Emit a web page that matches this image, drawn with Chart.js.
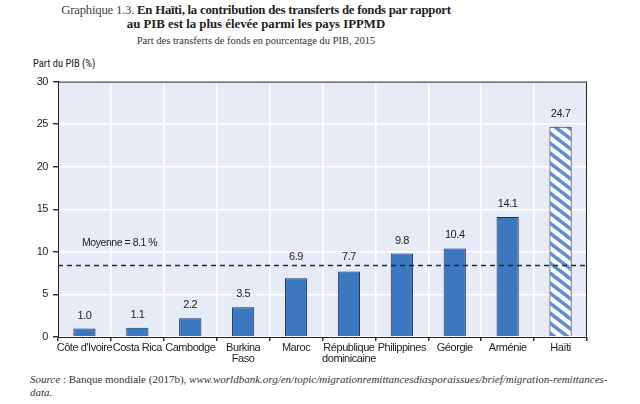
<!DOCTYPE html>
<html lang="fr">
<head>
    <meta charset="UTF-8">
    <title>Graphique 1.3</title>
    <style>
        body {
            margin: 0;
            width: 640px;
            height: 404px;
            background: #fff;
            position: relative;
            overflow: hidden;
            font-family: "Liberation Serif", serif;
            color: #222;
        }
        .title {
            position: absolute;
            left: 0;
            width: 512px;
            text-align: center;
            white-space: nowrap;
        }
        #t1 { top: 3px; font-size: 12.8px; letter-spacing: -0.25px; }
        #t2 { top: 17px; font-size: 12.8px; }
        #t3 { top: 35px; font-size: 10.5px; color: #333; }
        #t1 .n { color: #444; font-weight: normal; }
        #ylab {
            position: absolute;
            left: 33px;
            top: 57px;
            font-family: Roboto, "Liberation Sans", sans-serif;
            font-stretch: condensed;
            font-size: 10.5px;
            color: #222;
        }
        #chart-wrap {
            position: absolute;
            left: 0;
            top: 70px;
            width: 640px;
            height: 300px;
        }
        #source {
            position: absolute;
            left: 30px;
            top: 373px;
            font-size: 11px;
            line-height: 13px;
            color: #333;
            white-space: nowrap;
        }
    </style>
</head>
<body>
    <div class="title" id="t1"><span class="n">Graphique 1.3.</span> <b>En Haïti, la contribution des transferts de fonds par rapport</b></div>
    <div class="title" id="t2"><b>au PIB est la plus élevée parmi les pays IPPMD</b></div>
    <div class="title" id="t3">Part des transferts de fonds en pourcentage du PIB, 2015</div>
    <div id="ylab">Part du PIB (%)</div>
    <div id="chart-wrap"><canvas id="chart" width="640" height="300"></canvas></div>
    <div id="source"><i>Source</i> : Banque mondiale (2017b), <i>www.worldbank.org/en/topic/migrationremittancesdiasporaissues/brief/migration-remittances-</i><br><i>data.</i></div>

    <script src="https://cdn.jsdelivr.net/npm/chart.js"></script>
    <script>
        // Data
        const countries = ["Côte d'Ivoire", 'Costa Rica', 'Cambodge', ['Burkina', 'Faso'], 'Maroc',
            ['République', 'dominicaine'], 'Philippines', 'Géorgie', 'Arménie', 'Haïti'];
        const shares = [1.0, 1.1, 2.2, 3.5, 6.9, 7.7, 9.8, 10.4, 14.1, 24.7];
        const yTicks = [0, 5, 10, 15, 20, 25, 30];
        const meanLine = 8.4;          // where the dashed line sits on the picture
        const meanLabel = 'Moyenne = 8.1 %';

        const sans = '"Liberation Sans", Arial, sans-serif';
        const barBlue = '#3b78c0';
        const edge = '#1f2d46';

        // hatched fill for Haïti
        function makeHatch() {
            const w = 13, h = 10;
            const c = document.createElement('canvas');
            c.width = w;
            c.height = h;
            const g = c.getContext('2d');
            g.fillStyle = '#ffffff';
            g.fillRect(0, 0, w, h);
            g.strokeStyle = '#5f8fcf';
            g.lineWidth = 3.6;
            for (const dx of [-w, 0, w]) {
                g.beginPath();
                g.moveTo(dx - 2, -2 * h / w);
                g.lineTo(dx + w + 2, h + 2 * h / w);
                g.stroke();
            }
            return g.createPattern(c, 'repeat');
        }
        const hatch = makeHatch();
        const fills = shares.map((v, i) => i === shares.length - 1 ? hatch : barBlue);

        // plot background + frame, mean line, value labels
        const decor = {
            id: 'decor',
            beforeDraw(chart) {
                const a = chart.chartArea, ctx = chart.ctx;
                ctx.letterSpacing = '-0.45px';   // narrow look of the original labels
                ctx.save();
                ctx.fillStyle = '#e7ebf5';
                ctx.fillRect(a.left, a.top, a.right - a.left, a.bottom - a.top);
                ctx.restore();
            },
            afterDatasetsDraw(chart) {
                const a = chart.chartArea, ctx = chart.ctx;
                const y = chart.scales.y.getPixelForValue(meanLine);
                ctx.save();
                ctx.strokeStyle = '#1b2740';
                ctx.lineWidth = 1.4;
                ctx.setLineDash([5, 4]);
                ctx.beginPath();
                ctx.moveTo(a.left, y);
                ctx.lineTo(a.right, y);
                ctx.stroke();
                ctx.setLineDash([]);

                ctx.fillStyle = '#222';
                ctx.font = '10.5px ' + sans;
                ctx.textAlign = 'left';
                ctx.textBaseline = 'middle';
                ctx.fillText(meanLabel, a.left + 24, y - 22);

                ctx.font = '11px ' + sans;
                ctx.textAlign = 'center';
                chart.getDatasetMeta(0).data.forEach((bar, i) => {
                    let ly = bar.y - 13;
                    // labels that would sit on the dashed line are lifted above it
                    if (ly > y - 9 && ly < y + 8) ly = y - 9;
                    ctx.fillText(shares[i].toFixed(1), bar.x, ly);
                });

                ctx.strokeStyle = '#222';
                ctx.lineWidth = 1;
                ctx.strokeRect(a.left + 0.5, a.top + 0.5, a.right - a.left - 1, a.bottom - a.top);
                ctx.restore();
            }
        };

        new Chart(document.getElementById('chart'), {
            type: 'bar',
            data: {
                labels: countries,
                datasets: [{
                    data: shares,
                    backgroundColor: fills,
                    borderColor: edge,
                    borderWidth: 1,
                    barPercentage: 0.84,
                    categoryPercentage: 0.5
                }]
            },
            options: {
                responsive: false,
                animation: false,
                devicePixelRatio: 1,
                layout: { padding: { top: 8, right: 53, left: 0, bottom: 0 } },
                plugins: {
                    legend: { display: false },
                    tooltip: { enabled: false }
                },
                scales: {
                    x: {
                        grid: { color: '#ffffff', lineWidth: 1.5, tickColor: '#333', tickLength: 4, offset: true },
                        border: { color: '#222' },
                        ticks: {
                            color: '#222',
                            font: { family: sans, size: 11, lineHeight: 1.05 },
                            padding: 1,
                            maxRotation: 0,
                            autoSkip: false
                        },
                        afterFit(scale) { scale.height = 33; }
                    },
                    y: {
                        min: 0,
                        max: 30,
                        afterBuildTicks(scale) { scale.ticks = yTicks.map(v => ({ value: v })); },
                        grid: { color: '#ffffff', lineWidth: 1.5, tickColor: '#333', tickLength: 5 },
                        border: { color: '#222' },
                        ticks: {
                            color: '#222',
                            font: { family: sans, size: 11 },
                            padding: 5
                        },
                        afterFit(scale) { scale.width = 58; }
                    }
                }
            },
            plugins: [decor]
        });
    </script>
</body>
</html>
